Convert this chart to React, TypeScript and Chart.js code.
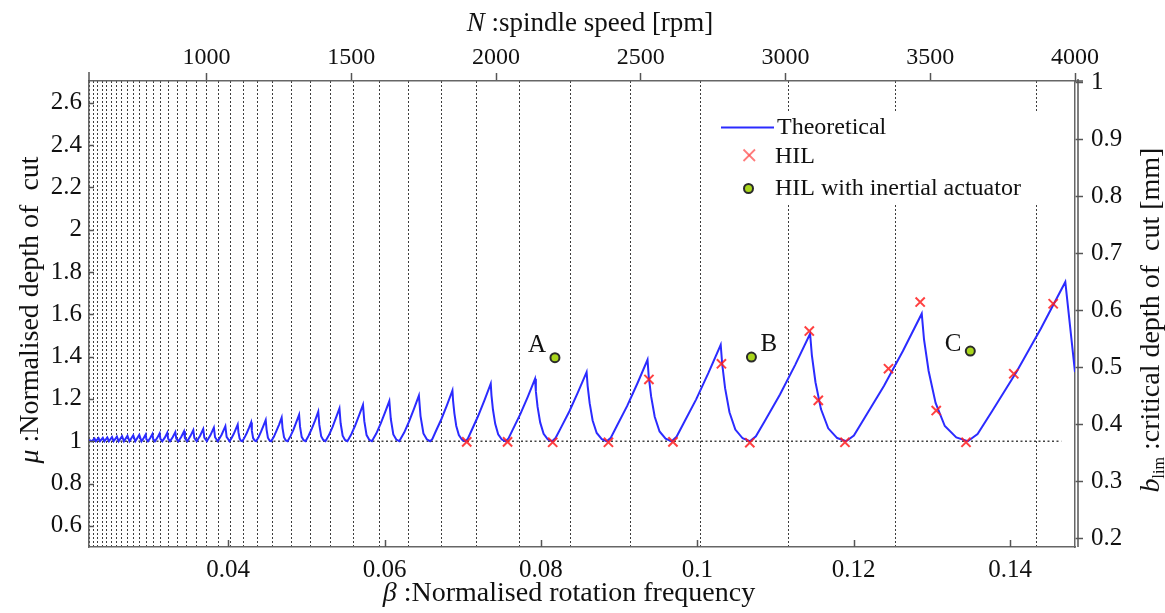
import React, { useEffect, useRef } from "react";
import { Chart, registerables } from "chart.js";

Chart.register(...registerables);

const SERIF = "'Liberation Serif', 'Times New Roman', serif";

// ---- axis ranges & tick labels ----
const BETA_MIN = 0.0222;
const BETA_MAX = 0.1483;
const RPM_MIN = 594;
const RPM_MAX = 4000;
const MU_MIN = 0.5;
const MU_MAX = 2.703;
const B_MIN = 0.1855;
const B_MAX = 1.0029;

const betaTicks = [0.04, 0.06, 0.08, 0.1, 0.12, 0.14];
const rpmTicks = [1000, 1500, 2000, 2500, 3000, 3500, 4000];
const muTicks = [0.6, 0.8, 1, 1.2, 1.4, 1.6, 1.8, 2, 2.2, 2.4, 2.6];
const bTicks = [0.2, 0.3, 0.4, 0.5, 0.6, 0.7, 0.8, 0.9, 1];

// dotted vertical lobe grid lines (beta)
const lobeGridBeta = [
  0.02229, 0.0228, 0.02333, 0.02389, 0.02447, 0.02509, 0.02573, 0.02641, 0.02713, 0.02789,
  0.02869, 0.02953, 0.03043, 0.03139, 0.0324, 0.03349, 0.03465, 0.03589, 0.03724, 0.03878,
  0.04026, 0.04192, 0.04372, 0.04564, 0.04808, 0.05051, 0.05308, 0.05599, 0.05936, 0.06304,
  0.06731, 0.07179, 0.07731, 0.08372, 0.09141, 0.10038, 0.11169, 0.12538, 0.14333,
];

// dotted reference line mu = 1
const baseBeta = [0.0222, 0.14654];
const baseMu = [1, 1];

// Theoretical stability lobes
const curveBeta = [
  0.0222,
  0.02258, 0.0229, 0.02308, 0.02342, 0.02361, 0.02397, 0.02417, 0.02454, 0.02475, 0.02514,
  0.02535, 0.02577, 0.02599, 0.02643, 0.02667, 0.02712, 0.02737, 0.02786, 0.02812, 0.02863,
  0.02891, 0.02918, 0.02945, 0.02954,
  0.02974, 0.03003, 0.03031, 0.03041,
  0.03063, 0.03093, 0.03123, 0.03133,
  0.03157, 0.03189, 0.03221, 0.03232,
  0.03256, 0.0329, 0.03324, 0.03336,
  0.03363, 0.03399, 0.03435, 0.03447,
  0.03476, 0.03515, 0.03554, 0.03567,
  0.03597, 0.03639, 0.03681, 0.03695,
  0.03727, 0.03772, 0.03817, 0.03832,
  0.03867, 0.03916, 0.03964, 0.0398,
  0.04018, 0.04044, 0.0407, 0.04096, 0.04122, 0.04131, 0.04146, 0.04163,
  0.04181, 0.04209, 0.04238, 0.04266, 0.04294, 0.04303, 0.04319, 0.04338,
  0.04357, 0.04388, 0.04419, 0.04449, 0.0448, 0.04491, 0.04508, 0.04529,
  0.0455, 0.04584, 0.04617, 0.04651, 0.04684, 0.04695, 0.04714, 0.04737,
  0.0476, 0.04797, 0.04834, 0.0487, 0.04907, 0.04919, 0.0494, 0.04965,
  0.0499, 0.0503, 0.05071, 0.05112, 0.05152, 0.05166, 0.05189, 0.05216,
  0.05244, 0.05289, 0.05334, 0.05378, 0.05423, 0.05438, 0.05464, 0.05494,
  0.05525, 0.05575, 0.05625, 0.05674, 0.05724, 0.05741, 0.0577, 0.05804,
  0.05838, 0.05894, 0.0595, 0.06005, 0.06061, 0.0608, 0.06112, 0.0615,
  0.06188, 0.06251, 0.06314, 0.06376, 0.06439, 0.0646, 0.06497, 0.0654,
  0.06583, 0.06612, 0.06654, 0.06726, 0.06797, 0.06868, 0.06876, 0.06893, 0.06917, 0.0695, 0.06991,
  0.07032, 0.07065, 0.07114, 0.07195, 0.07277, 0.07358, 0.07367, 0.07386, 0.07415, 0.07453, 0.075,
  0.07547, 0.07585, 0.07641, 0.07736, 0.0783, 0.07924, 0.07935, 0.07957, 0.0799, 0.08034, 0.08088,
  0.08143, 0.08187, 0.08253, 0.08364, 0.08474, 0.08584, 0.08597, 0.08623, 0.08661, 0.08713, 0.08778,
  0.08842, 0.08894, 0.08972, 0.09103, 0.09233, 0.09363, 0.09378, 0.09409, 0.09455, 0.09517, 0.09594,
  0.09671, 0.09734, 0.09828, 0.09985, 0.10142, 0.10299, 0.10318, 0.10355, 0.10411, 0.10486, 0.10579,
  0.10672, 0.10749, 0.10865, 0.11057, 0.1125, 0.11442, 0.11465, 0.11511, 0.11581, 0.11674, 0.11789,
  0.11905, 0.12002, 0.12146, 0.12388, 0.12629, 0.1287, 0.12899, 0.12958, 0.13047, 0.13165, 0.13312,
  0.13459, 0.13584, 0.13771, 0.14083, 0.14394, 0.14706, 0.1483,
];
const curveMu = [
  1.006,
  1, 1.013, 1, 1.015, 1, 1.016, 1, 1.018, 1, 1.02,
  1, 1.022, 1, 1.024, 1, 1.026, 1, 1.028, 1, 1.03,
  1, 1.014, 1.032, 1.01,
  1, 1.015, 1.034, 1.01,
  1, 1.016, 1.037, 1.011,
  1, 1.017, 1.04, 1.012,
  1, 1.019, 1.043, 1.013,
  1, 1.02, 1.047, 1.014,
  1, 1.023, 1.052, 1.016,
  1, 1.025, 1.058, 1.017,
  1, 1.028, 1.064, 1.019,
  1, 1.031, 1.071, 1.021,
  1, 1.015, 1.034, 1.056, 1.079, 1.043, 1.013, 1.003,
  1, 1.017, 1.039, 1.063, 1.089, 1.049, 1.015, 1.004,
  1, 1.019, 1.044, 1.071, 1.1, 1.055, 1.017, 1.004,
  1, 1.021, 1.049, 1.079, 1.112, 1.062, 1.019, 1.004,
  1, 1.024, 1.054, 1.089, 1.125, 1.069, 1.021, 1.005,
  1, 1.027, 1.061, 1.099, 1.14, 1.077, 1.024, 1.006,
  1, 1.029, 1.067, 1.11, 1.155, 1.085, 1.026, 1.006,
  1, 1.033, 1.075, 1.122, 1.172, 1.095, 1.029, 1.007,
  1, 1.036, 1.083, 1.135, 1.19, 1.105, 1.032, 1.008,
  1, 1.041, 1.094, 1.153, 1.216, 1.119, 1.037, 1.009,
  1, 1.011, 1.046, 1.104, 1.17, 1.24, 1.192, 1.132, 1.072, 1.029, 1.007,
  1, 1.012, 1.052, 1.118, 1.193, 1.272, 1.218, 1.15, 1.082, 1.033, 1.008,
  1, 1.013, 1.056, 1.128, 1.209, 1.295, 1.236, 1.162, 1.089, 1.035, 1.009,
  1, 1.015, 1.062, 1.142, 1.232, 1.327, 1.262, 1.18, 1.098, 1.039, 1.01,
  1, 1.017, 1.073, 1.167, 1.273, 1.385, 1.308, 1.212, 1.116, 1.046, 1.012,
  1, 1.021, 1.087, 1.198, 1.323, 1.456, 1.365, 1.251, 1.137, 1.055, 1.014,
  1, 1.023, 1.097, 1.221, 1.36, 1.508, 1.406, 1.279, 1.152, 1.061, 1.015,
  1, 1.027, 1.115, 1.262, 1.427, 1.603, 1.482, 1.332, 1.181, 1.072, 1.018,
  1, 1.034, 1.143, 1.328, 1.533, 1.753, 1.327,
];

// HIL measurements
const hilBeta = [
  0.07051, 0.07573, 0.0815, 0.08863, 0.09381, 0.09688, 0.10308, 0.10671, 0.11432,
  0.11547, 0.11888, 0.12445, 0.1285, 0.13055, 0.13436, 0.14047, 0.14551,
];
const hilMu = [
  0.997, 0.997, 0.995, 0.995, 1.292, 0.997, 1.366, 0.993, 1.521,
  1.193, 0.995, 1.343, 1.658, 1.145, 0.995, 1.319, 1.65,
];

// HIL with inertial actuator
const actBeta = [0.08179, 0.10692, 0.13491];
const actMu = [1.395, 1.398, 1.426];
const actNames = ["A", "B", "C"];

const pts = (xs: number[], ys: number[]) => xs.map((x, i) => ({ x, y: ys[i] }));
const asTicks = (vals: number[]) => vals.map((v) => ({ value: v }));

type Part = { text: string; font: string; dy?: number };

function partsWidth(ctx: CanvasRenderingContext2D, parts: Part[]) {
  let w = 0;
  for (const p of parts) {
    ctx.font = p.font;
    w += ctx.measureText(p.text).width;
  }
  return w;
}

function drawParts(ctx: CanvasRenderingContext2D, parts: Part[], x: number, y: number) {
  let cx = x;
  for (const p of parts) {
    ctx.font = p.font;
    ctx.fillText(p.text, cx, y + (p.dy || 0));
    cx += ctx.measureText(p.text).width;
  }
}

const decorPlugin = {
  id: "decor",
  afterDraw(chart: any) {
    const { ctx, chartArea: ca, scales } = chart;
    const L = ca.left, R = ca.right, T = ca.top, B = ca.bottom;
    ctx.save();
    const seg = (x1: number, y1: number, x2: number, y2: number) => {
      ctx.beginPath();
      ctx.moveTo(x1, y1);
      ctx.lineTo(x2, y2);
      ctx.stroke();
    };
    ctx.strokeStyle = "#555";
    ctx.lineWidth = 1.5;
    // inner ticks on left and bottom axes
    for (const v of muTicks) {
      const y = Math.round(scales.y.getPixelForValue(v)) + 0.5;
      seg(L, y, L + 5, y);
    }
    for (const v of betaTicks) {
      const x = Math.round(scales.x.getPixelForValue(v)) + 0.5;
      seg(x, B, x, B - 7);
    }
    // double right frame line and stubs
    seg(R + 3, T - 2, R + 3, B);
    seg(L, T, L, T - 9);
    seg(R, T, R + 8, T);

    // titles
    ctx.fillStyle = "#111";
    ctx.textBaseline = "alphabetic";
    ctx.textAlign = "left";
    const tf = `28px ${SERIF}`;
    const ti = `italic 28px ${SERIF}`;
    const top: Part[] = [
      { text: "N", font: `italic 27px ${SERIF}` },
      { text: " :spindle speed [rpm]", font: `27px ${SERIF}` },
    ];
    drawParts(ctx, top, 590 - partsWidth(ctx, top) / 2, 31);
    const bot: Part[] = [
      { text: "\u03B2", font: ti },
      { text: " :Normalised rotation frequency", font: tf },
    ];
    drawParts(ctx, bot, 569 - partsWidth(ctx, bot) / 2, 601);
    const left: Part[] = [
      { text: "\u03BC", font: ti },
      { text: " :Normalised depth of  cut", font: tf },
    ];
    ctx.save();
    ctx.translate(38, 310 + partsWidth(ctx, left) / 2);
    ctx.rotate(-Math.PI / 2);
    drawParts(ctx, left, 0, 0);
    ctx.restore();
    const right: Part[] = [
      { text: "b", font: ti },
      { text: "lim", font: `16px ${SERIF}`, dy: 5 },
      { text: " :critical depth of  cut [mm]", font: tf },
    ];
    ctx.save();
    ctx.translate(1159, 320 + partsWidth(ctx, right) / 2);
    ctx.rotate(-Math.PI / 2);
    drawParts(ctx, right, 0, 0);
    ctx.restore();

    // legend
    ctx.fillStyle = "#fff";
    ctx.fillRect(706, 112, 334, 93);
    ctx.strokeStyle = "#2b2bff";
    ctx.lineWidth = 2;
    seg(721, 127.5, 774, 127.5);
    ctx.strokeStyle = "rgba(255,80,80,0.75)";
    ctx.lineWidth = 1.8;
    seg(743.5, 149.5, 755, 161);
    seg(755, 149.5, 743.5, 161);
    ctx.beginPath();
    ctx.arc(748.5, 188.5, 4.5, 0, Math.PI * 2);
    ctx.fillStyle = "#a9d61c";
    ctx.fill();
    ctx.strokeStyle = "#2a2a2a";
    ctx.lineWidth = 2;
    ctx.stroke();
    ctx.fillStyle = "#111";
    ctx.font = `24px ${SERIF}`;
    ctx.fillText("Theoretical", 777, 134);
    ctx.fillText("HIL", 775, 163);
    ctx.fillText("HIL with inertial actuator", 775, 195);

    // A / B / C annotations
    const meta = chart.getDatasetMeta(3);
    const offs = [
      { dx: -9, dy: -6, align: "right" },
      { dx: 9, dy: -6, align: "left" },
      { dx: -9, dy: 0, align: "right" },
    ];
    ctx.font = `25px ${SERIF}`;
    meta.data.forEach((el: any, i: number) => {
      const o = offs[i];
      ctx.textAlign = o.align;
      ctx.fillText(actNames[i], el.x + o.dx, el.y + o.dy);
    });
    ctx.restore();
  },
};

export default function App() {
  const ref = useRef<HTMLCanvasElement>(null);
  useEffect(() => {
    const canvas = ref.current!;
    const tickFont = { family: SERIF, size: 25 };
    const topFont = { family: SERIF, size: 24 };
    const frame = { display: true, color: "#666", width: 1.5 };
    const chart = new Chart(canvas, {
      type: "scatter",
      data: {
        datasets: [
          {
            label: "base",
            data: pts(baseBeta, baseMu),
            showLine: true,
            borderColor: "#444",
            borderWidth: 1.3,
            borderDash: [2, 2.5],
            pointRadius: 0,
            order: 4,
          },
          {
            label: "Theoretical",
            data: pts(curveBeta, curveMu),
            showLine: true,
            borderColor: "#2b2bff",
            borderWidth: 2,
            pointRadius: 0,
            tension: 0,
            order: 3,
          },
          {
            label: "HIL",
            data: pts(hilBeta, hilMu),
            showLine: false,
            pointStyle: "crossRot",
            pointRadius: 6.5,
            borderColor: "rgba(255,30,30,0.85)",
            borderWidth: 2,
            order: 2,
          },
          {
            label: "HIL with inertial actuator",
            data: pts(actBeta, actMu),
            showLine: false,
            pointStyle: "circle",
            pointRadius: 4.5,
            backgroundColor: "#a9d61c",
            borderColor: "#2a2a2a",
            borderWidth: 2,
            order: 1,
          },
        ] as any,
      },
      options: {
        animation: false,
        responsive: false,
        devicePixelRatio: 1,
        events: [],
        layout: { padding: 0 },
        plugins: { legend: { display: false }, tooltip: { enabled: false } },
        scales: {
          x: {
            type: "linear",
            position: "bottom",
            min: BETA_MIN,
            max: BETA_MAX,
            bounds: "data",
            afterBuildTicks: (s: any) => { s.ticks = asTicks(betaTicks); },
            afterFit: (s: any) => { s.height = 66; },
            ticks: { autoSkip: false, maxRotation: 0, padding: 8, color: "#111", font: tickFont, callback: (v: any) => String(v) },
            grid: { drawOnChartArea: false, drawTicks: false },
            border: frame,
          },
          xg: {
            type: "linear",
            position: "bottom",
            min: BETA_MIN,
            max: BETA_MAX,
            bounds: "data",
            afterBuildTicks: (s: any) => { s.ticks = asTicks(lobeGridBeta); },
            afterFit: (s: any) => { s.height = 0; },
            ticks: { display: false },
            grid: { drawOnChartArea: true, drawTicks: false, color: "rgba(40,40,40,0.9)", lineWidth: 1 },
            border: { display: false, dash: [2, 2] },
          },
          x2: {
            type: "linear",
            position: "top",
            min: RPM_MIN,
            max: RPM_MAX,
            bounds: "data",
            afterBuildTicks: (s: any) => { s.ticks = asTicks(rpmTicks); },
            afterFit: (s: any) => { s.height = 81; },
            ticks: { autoSkip: false, maxRotation: 0, padding: 1, color: "#111", font: topFont, callback: (v: any) => String(v) },
            grid: { drawOnChartArea: false, drawTicks: true, tickLength: 8, tickColor: "#555", tickWidth: 1.5 },
            border: frame,
          },
          y: {
            type: "linear",
            position: "left",
            min: MU_MIN,
            max: MU_MAX,
            bounds: "data",
            afterBuildTicks: (s: any) => { s.ticks = asTicks(muTicks); },
            afterFit: (s: any) => { s.width = 89; },
            ticks: { autoSkip: false, padding: 7, color: "#111", font: tickFont, callback: (v: any) => String(v) },
            grid: { drawOnChartArea: false, drawTicks: false },
            border: frame,
          },
          y2: {
            type: "linear",
            position: "right",
            min: B_MIN,
            max: B_MAX,
            bounds: "data",
            afterBuildTicks: (s: any) => { s.ticks = asTicks(bTicks); },
            afterFit: (s: any) => { s.width = 90; },
            ticks: { autoSkip: false, padding: 8, color: "#111", font: tickFont, callback: (v: any) => String(v) },
            grid: { drawOnChartArea: false, drawTicks: true, tickLength: 8, tickColor: "#555", tickWidth: 1.5 },
            border: frame,
          },
        },
      } as any,
      plugins: [decorPlugin],
    });
    return () => chart.destroy();
  }, []);
  return (
    <div style={{ position: "absolute", left: 0, top: 0, width: 1165, height: 613, background: "#fff" }}>
      <canvas ref={ref} width={1165} height={613} style={{ display: "block", width: 1165, height: 613 }} />
    </div>
  );
}
